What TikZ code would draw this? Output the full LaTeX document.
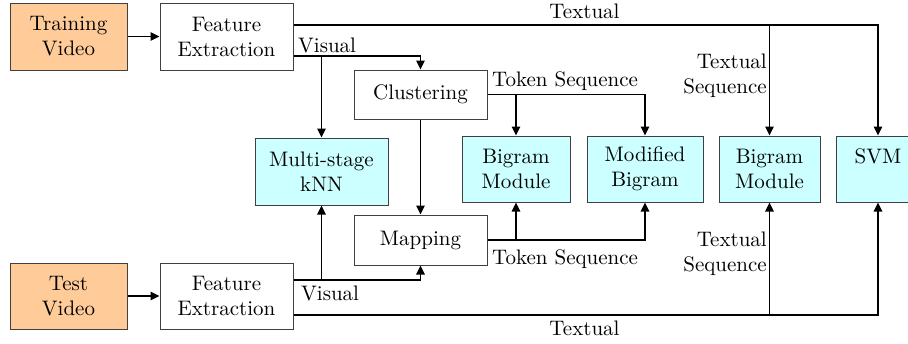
\documentclass[tikz,border=0pt]{standalone}
\usepackage{fontspec}
\setmainfont{lmroman10-regular}[Extension=.otf]
\usetikzlibrary{arrows.meta}
\definecolor{orangefill}{HTML}{FFCC99}
\definecolor{cyanfill}{HTML}{CCFFFF}
\definecolor{boxline}{HTML}{404040}
\tikzset{
  box/.style={draw=boxline, line width=1pt, align=center, inner sep=0pt, font=\rmfamily\fontsize{21}{25}\selectfont},
  inbox/.style={box, fill=orangefill},
  plainbox/.style={box, fill=white},
  modbox/.style={box, fill=cyanfill},
  arr/.style={draw=black, line width=1.6pt, -{Triangle[length=9pt,width=8.5pt]}},
  lbl/.style={inner sep=0pt, font=\rmfamily\fontsize{21}{25}\selectfont},
}
\begin{document}
\begin{tikzpicture}[x=1pt, y=-1pt]
\clip (0,0) rectangle (908,343);
\fill[white] (0,0) rectangle (908,343);
% boxes
\node[inbox, minimum width=117pt, minimum height=67pt] (tv) at (68.5,36.5) {Training\\Video};
\node[plainbox, minimum width=133pt, minimum height=67pt] (fe1) at (226.5,36.5) {Feature\\Extraction};
\node[plainbox, minimum width=133pt, minimum height=49pt] (clu) at (420.5,94.5) {Clustering};
\node[modbox, minimum width=133pt, minimum height=67pt] (knn) at (321.5,171.5) {Multi-stage\\kNN};
\node[plainbox, minimum width=133pt, minimum height=50pt] (map) at (420.5,240) {Mapping};
\node[modbox, minimum width=108pt, minimum height=66pt] (bm1) at (516,169) {Bigram\\Module};
\node[modbox, minimum width=116pt, minimum height=66pt] (mb) at (645,169) {Modified\\Bigram};
\node[modbox, minimum width=101pt, minimum height=66pt] (bm2) at (769.5,169) {Bigram\\Module};
\node[modbox, minimum width=84pt, minimum height=66pt] (svm) at (878,169) {SVM\\\mbox{}};
\node[inbox, minimum width=117pt, minimum height=66pt] (tst) at (68.5,296) {Test\\Video};
\node[plainbox, minimum width=133pt, minimum height=66pt] (fe2) at (226.5,296) {Feature\\Extraction};
% connectors
\draw[arr] (tv) -- (fe1);
\draw[arr] (tst) -- (fe2);
\draw[arr] (fe1.east |- 0,25) -| (svm.north);
\draw[arr] (bm2.north |- 0,25) -- (bm2.north);
\draw[arr] (fe1.east |- 0,56) -| (clu.north);
\draw[arr] (knn.north |- 0,56) -- (knn.north);
\draw[arr] (clu.east) -| (mb.north);
\draw[arr] (bm1.north |- clu.east) -- (bm1.north);
\draw[arr] (clu.south) -- (map.north);
\draw[arr] (map.east) -| (mb.south);
\draw[arr] (bm1.south |- map.east) -- (bm1.south);
\draw[arr] (fe2.east |- 0,280) -| (map.south);
\draw[arr] (knn.south |- 0,280) -- (knn.south);
\draw[arr] (fe2.east |- 0,315) -| (svm.south);
\draw[arr] (bm2.south |- 0,315) -- (bm2.south);
% labels
\node[lbl, anchor=base] (ltt) at (584.5,18.5) {Textual};
\node[lbl, anchor=base west] (lvt) at (298,52) {Visual};
\node[lbl, anchor=base west] (lst) at (492,86) {Token Sequence};
\node[lbl, anchor=east, align=right] (lqt) at (767,76) {Textual\\Sequence};
\node[lbl, anchor=base west] (lsb) at (492,264) {Token Sequence};
\node[lbl, anchor=east, align=right] (lqb) at (767,254) {Textual\\Sequence};
\node[lbl, anchor=base west] (lvb) at (301,300) {Visual};
\node[lbl, anchor=base] (ltb) at (584.5,335) {Textual};
\end{tikzpicture}
\end{document}
